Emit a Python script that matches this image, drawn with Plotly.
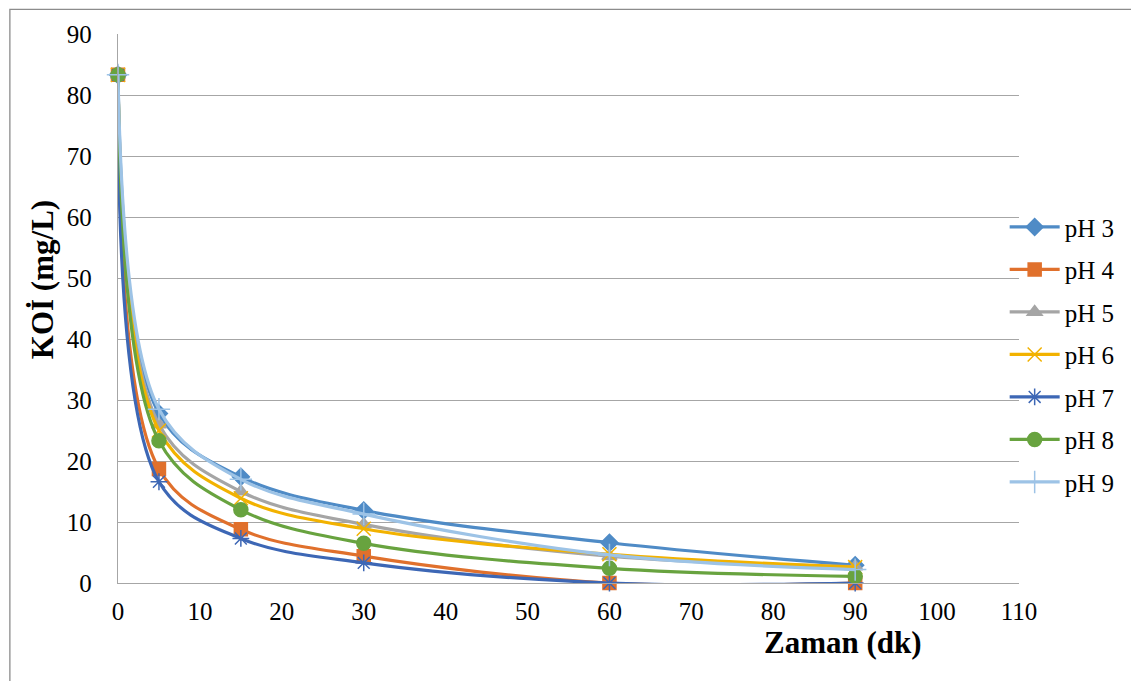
import plotly.graph_objects as go

time_min = [0, 5, 15, 30, 60, 90]
series_names = ["pH 3", "pH 4", "pH 5", "pH 6", "pH 7", "pH 8", "pH 9"]
ph3 = [83.3, 27.8, 17.4, 11.9, 6.6, 2.9]
ph4 = [83.3, 18.7, 8.8, 4.4, 0.0, 0.0]
ph5 = [83.3, 26.0, 15.0, 9.6, 4.4, 2.7]
ph6 = [83.3, 25.0, 13.9, 8.9, 4.7, 2.6]
ph7 = [83.3, 16.6, 7.3, 3.3, 0.0, 0.0]
ph8 = [83.3, 23.3, 12.0, 6.5, 2.4, 1.1]
ph9 = [83.3, 28.5, 17.0, 11.3, 4.6, 2.2]
x_ticks = list(range(0, 111, 10))
y_ticks = list(range(0, 91, 10))

values = [ph3, ph4, ph5, ph6, ph7, ph8, ph9]
colors = ["#4F8BC6", "#E0702C", "#A5A5A5", "#F2B200", "#3D67B5", "#68A33F", "#9DC3E6"]
symbols = ["diamond", "square", "triangle-up", "x-thin-open", "asterisk-open", "circle", "cross-thin-open"]
sizes = [13, 13, 13, 14, 14, 14, 16]

FONT = "Liberation Serif"

fig = go.Figure()
for i, (name, vals) in enumerate(zip(series_names, values)):
    fig.add_trace(go.Scatter(
        x=time_min, y=vals, name=name, mode="lines+markers",
        line=dict(color=colors[i], width=3.2, shape="spline", smoothing=1.0),
        marker=dict(symbol=symbols[i], size=sizes[i], color=colors[i],
                    line=dict(color=colors[i], width=1.5)),
        cliponaxis=False, legendgroup=name,
    ))

# page body has an 8px margin, so the figure is 16px smaller than the window
fig.update_layout(
    width=1123, height=673,
    margin=dict(l=110, r=111, t=26, b=98),
    paper_bgcolor="white", plot_bgcolor="white",
    font=dict(family=FONT, size=25, color="black"),
    showlegend=True,
    legend=dict(x=0.983, xanchor="left", y=0.69, yanchor="top",
                bgcolor="rgba(0,0,0,0)", font=dict(family=FONT, size=25, color="black"),
                tracegroupgap=7, itemwidth=50),
    xaxis=dict(range=[0, 110], tickvals=x_ticks, showgrid=False,
               showline=True, linecolor="#A6A6A6", linewidth=1.3,
               ticks="", ticklabelstandoff=6, zeroline=False,
               tickfont=dict(family=FONT, size=25, color="black")),
    yaxis=dict(range=[0, 90], tickvals=y_ticks, showgrid=True,
               gridcolor="#A6A6A6", gridwidth=1.3,
               showline=True, linecolor="#A6A6A6", linewidth=1.3,
               ticks="", ticklabelstandoff=20, zeroline=False,
               tickfont=dict(family=FONT, size=25, color="black")),
    annotations=[
        dict(text="<b>KOİ (mg/L)</b>", xref="paper", yref="paper",
             x=-0.083, y=0.552, xanchor="center", yanchor="middle",
             textangle=-90, showarrow=False, font=dict(family=FONT, size=31, color="black")),
        dict(text="<b>Zaman (dk)</b>", xref="paper", yref="paper",
             x=0.805, y=-0.109, xanchor="center", yanchor="middle",
             showarrow=False, font=dict(family=FONT, size=31, color="black")),
    ],
    shapes=[
        dict(type="rect", xref="paper", yref="paper",
             x0=-0.12, x1=1.2, y0=-0.3, y1=1.045,
             line=dict(color="#8C8C8C", width=1.3), fillcolor="rgba(0,0,0,0)",
             layer="below"),
    ],
)

fig.write_html("out.html")
